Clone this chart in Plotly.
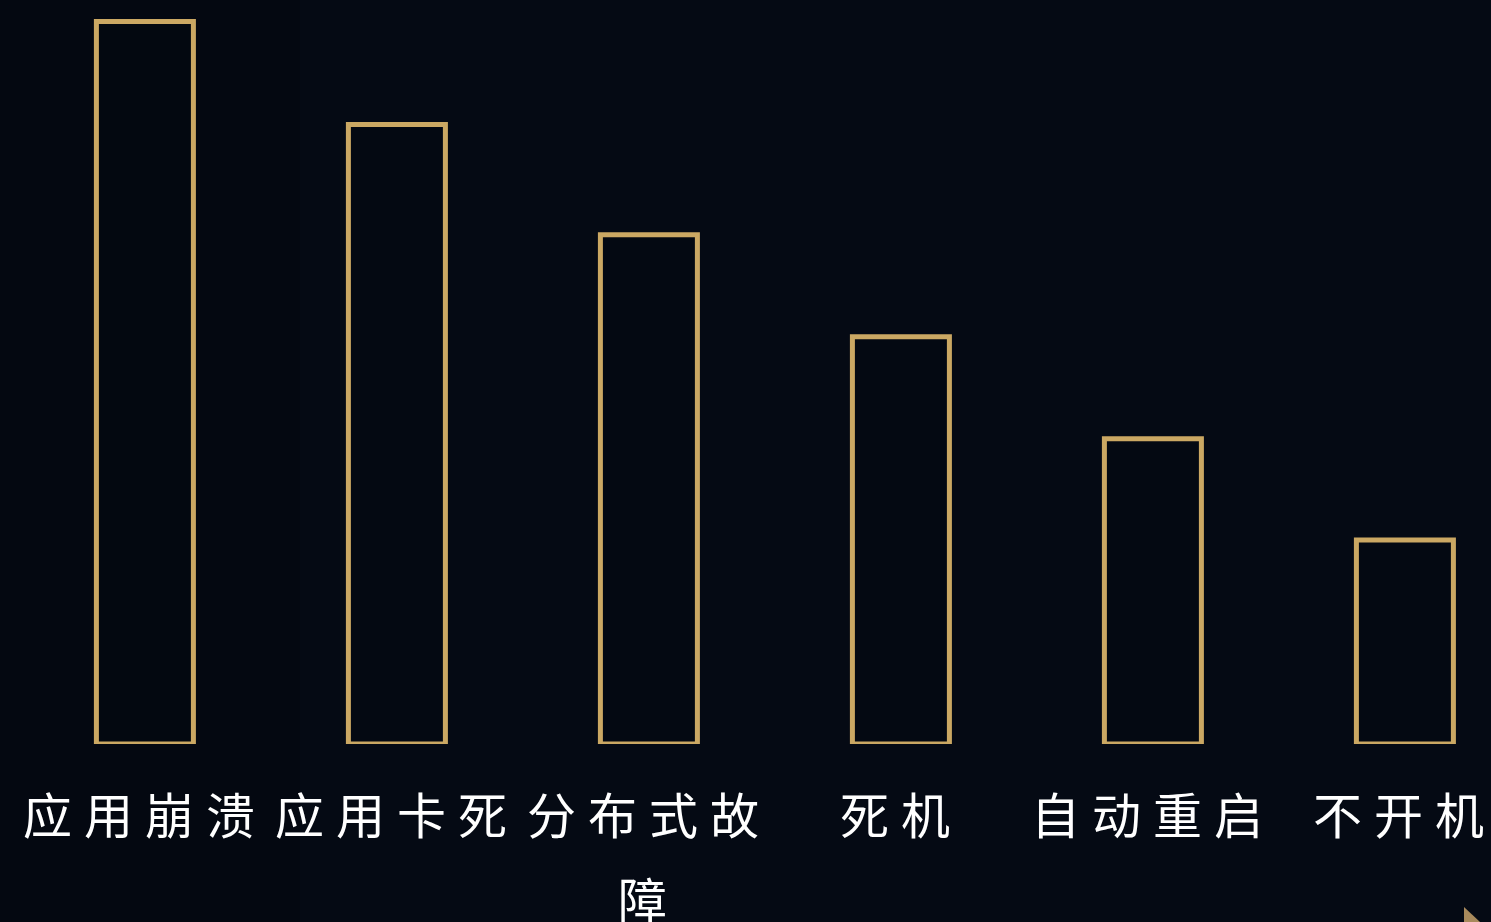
import plotly.graph_objects as go

categories = ["应用崩溃", "应用卡死", "分布式故障", "死机", "自动重启", "不开机"]
values = [708, 607, 499, 399, 299, 200]

W, H = 1491, 922
PLOT_BOTTOM = 744
Y_MAX = 729
FONT_SIZE = 49
PITCH = 61
MAX_CHARS = 4
LINE_GAP = 85
FIRST_LINE_OFFSET = 68

fig = go.Figure()
fig.add_trace(go.Bar(
    x=list(range(len(categories))),
    y=values,
    width=97 / 252,
    marker=dict(color="rgba(4,8,16,0.6)", line=dict(color="#cba863", width=5)),
    hoverinfo="skip",
))

annotations = []
for ci, label in enumerate(categories):
    lines = [label[i:i + MAX_CHARS] for i in range(0, len(label), MAX_CHARS)]
    for li, line in enumerate(lines):
        n = len(line)
        total = n * PITCH
        for k, ch in enumerate(line):
            offset = -total / 2 + k * PITCH + FONT_SIZE / 2
            annotations.append(dict(
                x=ci, xref="x", y=0, yref="paper",
                text=ch, showarrow=False,
                xanchor="center", yanchor="middle",
                xshift=offset, yshift=-(FIRST_LINE_OFFSET + li * LINE_GAP),
                font=dict(family="Noto Sans CJK SC", size=FONT_SIZE, color="#ffffff"),
            ))

fig.update_layout(
    width=W, height=H,
    margin=dict(l=0, r=0, t=0, b=H - PLOT_BOTTOM),
    paper_bgcolor="#050a14",
    plot_bgcolor="rgba(0,0,0,0)",
    showlegend=False,
    annotations=annotations,
    xaxis=dict(range=[-0.575, -0.575 + W / 252], showgrid=False, zeroline=False,
               showticklabels=False, showline=False, fixedrange=True),
    yaxis=dict(range=[0, Y_MAX], showgrid=False, zeroline=False,
               showticklabels=False, showline=False, fixedrange=True),
)

fig.add_shape(type="rect", xref="paper", yref="paper", x0=0, x1=300 / W, y0=-1, y1=1,
              fillcolor="#03060d", opacity=0.5, line=dict(width=0), layer="below")

# decorative corner triangle (bottom-right), in paper coords
def py(ypix):
    return (PLOT_BOTTOM - ypix) / PLOT_BOTTOM
fig.add_shape(type="path", xref="paper", yref="paper",
              path=f"M {1464/W},{py(907)} L {1480/W},{py(922)} L {1464/W},{py(922)} Z",
              fillcolor="#a88a5c", line=dict(width=0))

fig.write_html("out.html", config={"displayModeBar": False})
